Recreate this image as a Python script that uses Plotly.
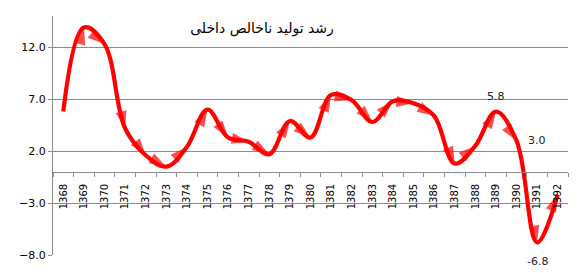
import plotly.graph_objects as go

years = [str(y) for y in range(1368, 1393)]
growth = [5.8, 13.9, 12.3, 4.2, 1.6, 0.5, 2.4, 6.0, 3.3, 2.9, 1.7, 4.9, 3.3,
          7.4, 6.9, 4.8, 6.8, 6.6, 5.4, 0.8, 2.5, 5.8, 3.0, -6.8, -2.2]
title_text = "رشد تولید ناخالص داخلی"
labelled = {"1389": ("5.8", 0, 15), "1390": ("3.0", 20, 0), "1391": ("-6.8", 0, -19)}

y_min, y_max = -8, 15
grid = "#8c8c8c"

symbols = ["circle"] + ["arrow"] * (len(years) - 1)
sizes = [0] + [18] * (len(years) - 1)

fig = go.Figure()
fig.add_trace(go.Scatter(
    x=years, y=growth, mode="lines+markers",
    line=dict(color="#ff0000", width=4.2, shape="spline", smoothing=1.05),
    marker=dict(symbol=symbols, size=sizes, color="#ff0000", angleref="previous",
                line=dict(width=0)),
    cliponaxis=False, hoverinfo="skip"))

for yr, (txt, dx, dy) in labelled.items():
    i = years.index(yr)
    fig.add_annotation(x=i, y=growth[i], xref="x", yref="y", text=txt,
                       showarrow=False, xshift=dx, yshift=dy,
                       font=dict(family="DejaVu Sans", size=11, color="#222222"))

fig.update_layout(
    width=584, height=273,
    margin=dict(l=53, r=16, t=16, b=18),
    paper_bgcolor="white", plot_bgcolor="white",
    showlegend=False,
    title=dict(text=title_text, x=262 / 584, xref="container", xanchor="center",
               y=1 - 28 / 273, yref="container", yanchor="middle",
               font=dict(family="DejaVu Sans", size=14, color="black")),
    xaxis=dict(type="category", range=[-0.5, len(years) - 0.5],
               anchor="free", position=(0 - y_min) / (y_max - y_min),
               showline=True, linecolor=grid, linewidth=1,
               ticks="outside", tickson="boundaries", ticklen=4, tickcolor=grid,
               tickangle=-90, showgrid=False, ticklabelstandoff=7,
               tickfont=dict(family="DejaVu Sans", size=10, color="black")),
    yaxis=dict(range=[y_min, y_max], tickvals=[-8, -3, 2, 7, 12],
               tickformat=".1f", showgrid=True, gridcolor=grid, gridwidth=1,
               zeroline=False, showline=True, linecolor=grid, linewidth=1,
               ticks="outside", ticklen=4, tickcolor=grid,
               tickfont=dict(family="DejaVu Sans", size=11, color="black")),
)

fig.write_html("out.html")
